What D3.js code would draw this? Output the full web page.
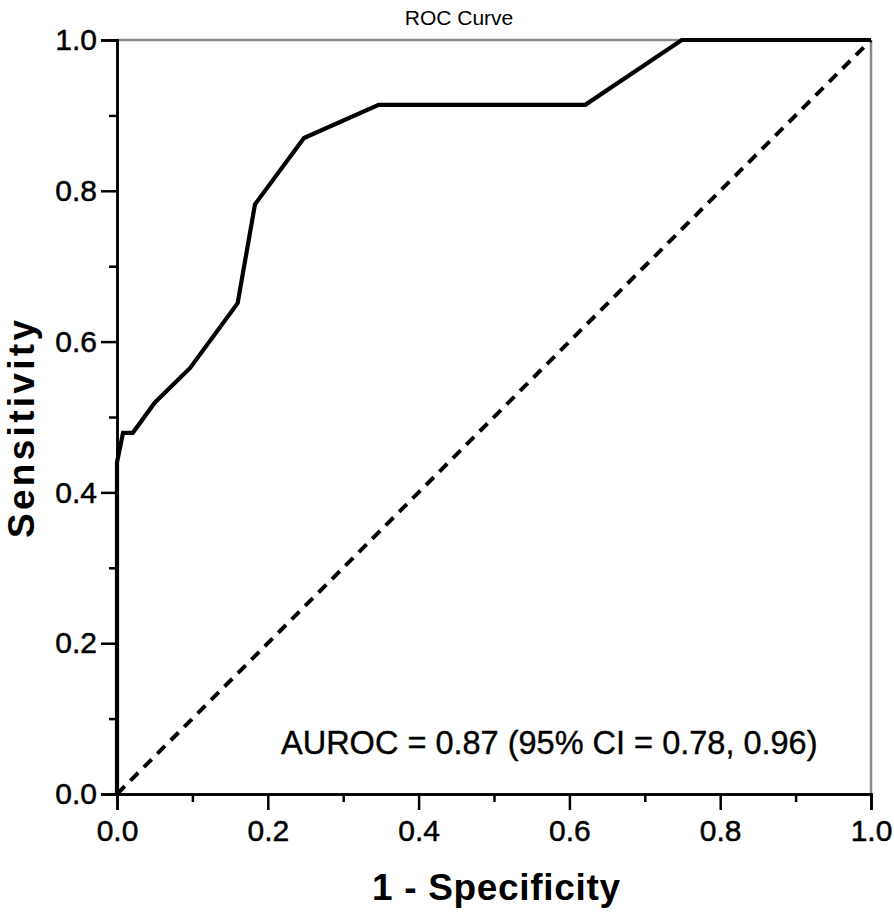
<!DOCTYPE html>
<html>
<head>
<meta charset="utf-8">
<script src="https://cdn.jsdelivr.net/npm/d3@7"></script>
<style>
  html, body { margin: 0; padding: 0; background: #fff; }
  svg { display: block; font-family: "Liberation Sans", Arial, sans-serif; }
</style>
</head>
<body>
<svg id="chart" width="894" height="917"></svg>
<script>
// ROC curve points: 1 - specificity (fpr) and sensitivity (tpr)
const fpr = [0, 0, 0.008, 0.021, 0.050, 0.097, 0.160, 0.183, 0.248, 0.347, 0.621, 0.749, 1.0];
const tpr = [0, 0.440, 0.479, 0.479, 0.519, 0.565, 0.651, 0.782, 0.870, 0.914, 0.914, 1.0, 1.0];
const refLine = [[0, 0], [1, 1]];
const majorTicks = [0, 0.2, 0.4, 0.6, 0.8, 1.0];
const minorTicks = [0.1, 0.3, 0.5, 0.7, 0.9];
const titleText = "ROC Curve";
const xTitle = "1 - Specificity";
const yTitle = "Sensitivity";
const annotation = "AUROC = 0.87 (95% CI = 0.78, 0.96)";

const svg = d3.select("#chart");
const L = 117, R = 871, T = 40, B = 794;
const x = d3.scaleLinear().domain([0, 1]).range([L, R]);
const y = d3.scaleLinear().domain([0, 1]).range([B, T]);

// frame: top and right grey
svg.append("line").attr("x1", L).attr("x2", R).attr("y1", T).attr("y2", T)
  .attr("stroke", "#8a8a8a").attr("stroke-width", 2.5);
svg.append("line").attr("x1", R).attr("x2", R).attr("y1", T).attr("y2", B)
  .attr("stroke", "#8a8a8a").attr("stroke-width", 2.5);

// axes
const fmt = d3.format(".1f");
const xAxis = svg.append("g").attr("transform", `translate(0,${B})`)
  .call(d3.axisBottom(x).tickValues(majorTicks).tickFormat(fmt).tickSize(16).tickPadding(10));
const xMinor = svg.append("g").attr("transform", `translate(0,${B})`)
  .call(d3.axisBottom(x).tickValues(minorTicks).tickFormat("").tickSize(8));
const yAxis = svg.append("g").attr("transform", `translate(${L},0)`)
  .call(d3.axisLeft(y).tickValues(majorTicks).tickFormat(fmt).tickSize(16).tickPadding(4));
const yMinor = svg.append("g").attr("transform", `translate(${L},0)`)
  .call(d3.axisLeft(y).tickValues(minorTicks).tickFormat("").tickSize(8));

[xAxis, xMinor, yAxis, yMinor].forEach(g => {
  g.select(".domain").attr("stroke", "#000").attr("stroke-width", 2.5);
  g.selectAll(".tick line").attr("stroke", "#000").attr("stroke-width", 2.5);
  g.selectAll(".tick text").attr("fill", "#000")
    .attr("stroke", "#000").attr("stroke-width", 0.5)
    .style("font-size", "30px").style("font-family", "'Liberation Sans', Arial, sans-serif");
});

// reference diagonal
svg.append("path")
  .attr("d", d3.line().x(d => x(d[0])).y(d => y(d[1]))(refLine))
  .attr("fill", "none").attr("stroke", "#000").attr("stroke-width", 4)
  .attr("stroke-dasharray", "11,8");

// ROC curve
const pts = fpr.map((f, i) => [f, tpr[i]]);
svg.append("path")
  .attr("d", d3.line().x(d => x(d[0])).y(d => y(d[1]))(pts))
  .attr("fill", "none").attr("stroke", "#000").attr("stroke-width", 4.2)
  .attr("stroke-linejoin", "miter");

// title
svg.append("text").attr("x", 459).attr("y", 25).attr("text-anchor", "middle")
  .style("font-size", "21px").text(titleText);

// axis titles
svg.append("text").attr("x", 496).attr("y", 900).attr("text-anchor", "middle")
  .style("font-size", "37px").style("font-weight", "bold")
  .attr("textLength", 248).attr("lengthAdjust", "spacing").text(xTitle);
svg.append("text").attr("transform", "translate(34,429) rotate(-90)")
  .attr("text-anchor", "middle")
  .style("font-size", "37px").style("font-weight", "bold")
  .attr("textLength", 218).attr("lengthAdjust", "spacing").text(yTitle);

// annotation
svg.append("text").attr("x", 281).attr("y", 754)
  .attr("stroke", "#000").attr("stroke-width", 0.4)
  .style("font-size", "32.5px").text(annotation);
</script>
</body>
</html>
